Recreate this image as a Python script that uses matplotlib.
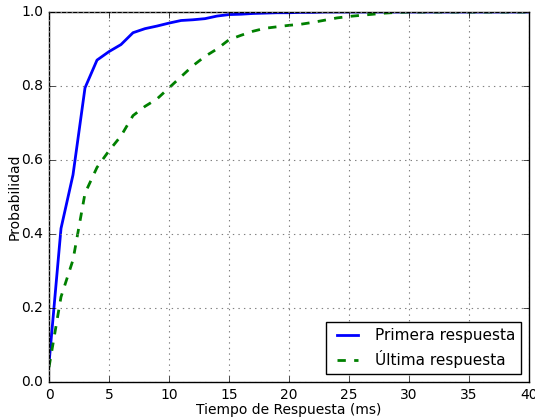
import numpy as np
import matplotlib
matplotlib.use('Agg')
import matplotlib.pyplot as plt

plt.style.use('classic')

# Tiempos (ms) y probabilidad acumulada de cada respuesta
tiempo = np.arange(0, 41)
primera = [0.05, 0.415, 0.56, 0.795, 0.87, 0.893, 0.912, 0.944, 0.955, 0.962,
           0.970, 0.977, 0.979, 0.982, 0.989, 0.993, 0.994, 0.996, 0.997, 0.998,
           0.998, 0.999, 0.999, 1.0, 1.0, 1.0, 1.0, 1.0, 1.0, 1.0,
           1.0, 1.0, 1.0, 1.0, 1.0, 1.0, 1.0, 1.0, 1.0, 1.0, 1.0]
ultima = [0.04, 0.23, 0.33, 0.51, 0.58, 0.625, 0.665, 0.72, 0.745, 0.765,
          0.795, 0.825, 0.855, 0.88, 0.90, 0.925, 0.937, 0.948, 0.956, 0.960,
          0.964, 0.967, 0.972, 0.978, 0.984, 0.988, 0.991, 0.994, 0.997, 0.999,
          1.0, 1.0, 1.0, 1.0, 1.0, 1.0, 1.0, 1.0, 1.0, 1.0, 1.0]

fig = plt.figure(figsize=(5.35, 4.18), dpi=100, facecolor='white')
ax = fig.add_axes([0.0916, 0.0861, 0.8972, 0.8852])

ax.plot(tiempo, primera, 'b-', lw=2, label='Primera respuesta')
ax.plot(tiempo, ultima, 'g--', lw=2, label='Última respuesta')

ax.set_xlim(0, 40)
ax.set_ylim(0, 1)
ax.set_xticks(np.arange(0, 41, 5))
ax.set_yticks(np.arange(0, 1.01, 0.2))
ax.tick_params(labelsize=10)
ax.grid(True, color='gray', linestyle=':', linewidth=0.8)
ax.set_xlabel('Tiempo de Respuesta (ms)', fontsize=10, labelpad=1)
ax.set_ylabel('Probabilidad', fontsize=10)
ax.yaxis.set_label_coords(-0.058, 0.5)
ax.legend(loc='lower right', fontsize=11, handlelength=2.0, labelspacing=0.45,
          borderaxespad=0.5)

fig.savefig('out.png', dpi=100, facecolor='white')
